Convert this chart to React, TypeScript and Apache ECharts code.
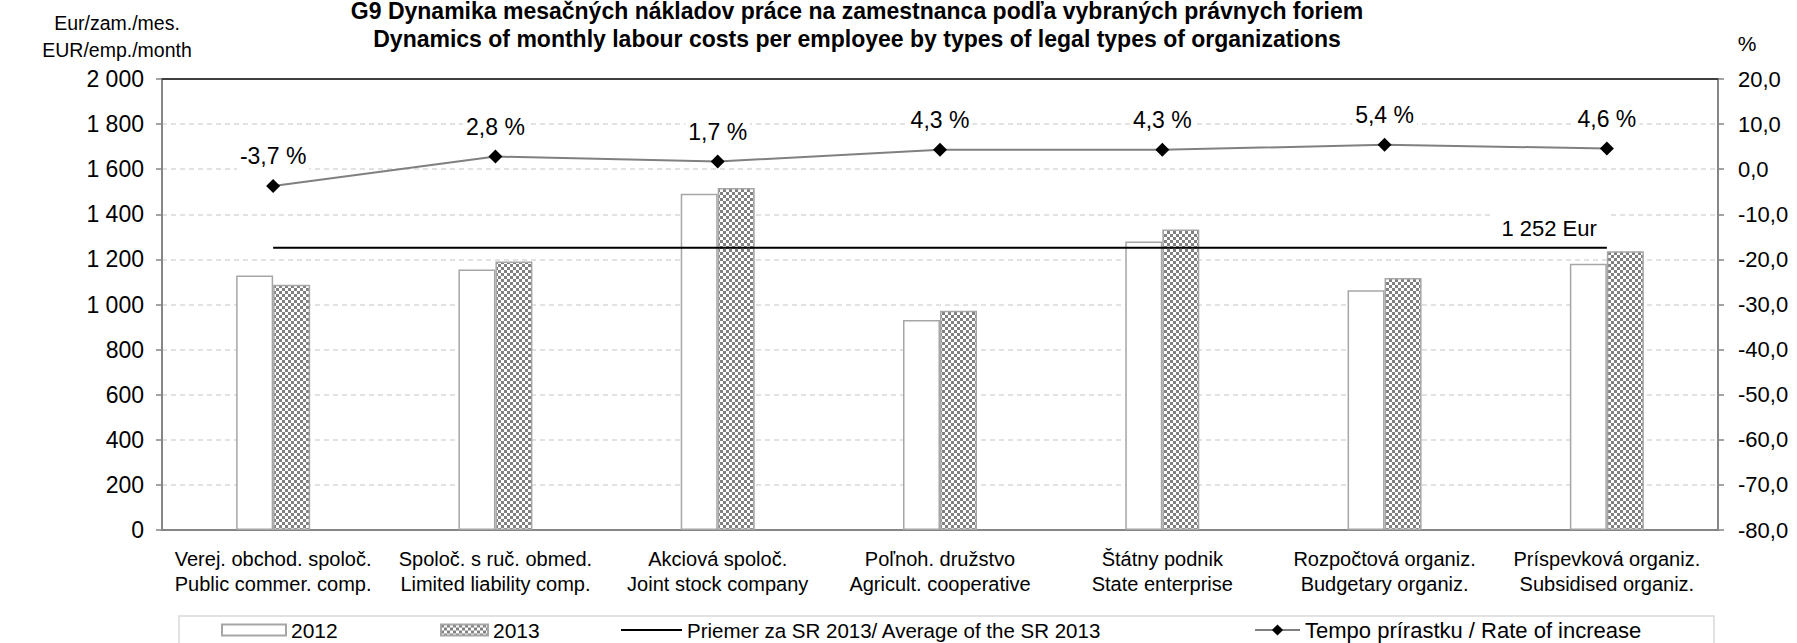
import React, { useEffect, useRef } from 'react';
import * as echarts from 'echarts';

const categories = [
  'Verej. obchod. spoloč.\nPublic commer. comp.',
  'Spoloč. s ruč. obmed.\nLimited liability comp.',
  'Akciová spoloč.\nJoint stock company',
  'Poľnoh. družstvo\nAgricult. cooperative',
  'Štátny podnik\nState enterprise',
  'Rozpočtová organiz.\nBudgetary organiz.',
  'Príspevková organiz.\nSubsidised organiz.',
];
const costs2012 = [1129, 1155, 1491, 931, 1279, 1063, 1181];
const costs2013 = [1088, 1191, 1517, 972, 1333, 1117, 1236];
const average2013 = 1252;
const rateOfIncrease = [-3.7, 2.8, 1.7, 4.3, 4.3, 5.4, 4.6];

const seriesNames = [
  '2012',
  '2013',
  'Priemer za SR 2013/ Average of the SR 2013',
  'Tempo prírastku / Rate of increase',
];
const titleLines = [
  'G9 Dynamika mesačných nákladov práce na zamestnanca podľa vybraných právnych foriem',
  'Dynamics of monthly labour costs per employee by types of legal types of organizations',
];
const leftAxisNameLines = ['Eur/zam./mes.', 'EUR/emp./month'];
const rightAxisName = '%';
const leftAxisRange = { min: 0, max: 2000, interval: 200 };
const rightAxisRange = { min: -80, max: 20, interval: 10 };

const FONT = '"Liberation Sans", Arial, sans-serif';
const AXIS_GRAY = '#868686';

const fmtThousands = (v: number) =>
  String(Math.round(v)).replace(/\B(?=(\d{3})+(?!\d))/g, ' ');
const fmtDecimal = (v: number) => v.toFixed(1).replace('.', ',');

function makePattern() {
  const c = document.createElement('canvas');
  c.width = 6;
  c.height = 6;
  const ctx = c.getContext('2d')!;
  ctx.fillStyle = '#ffffff';
  ctx.fillRect(0, 0, 6, 6);
  ctx.fillStyle = '#808080';
  ctx.fillRect(0, 0, 3, 3);
  ctx.fillRect(3, 3, 3, 3);
  return { image: c, repeat: 'repeat', imageWidth: 6, imageHeight: 6 } as any;
}

export default function App() {
  const ref = useRef<HTMLDivElement>(null);

  useEffect(() => {
    document.body.style.margin = '0';
    if (!ref.current) return;
    const chart = echarts.init(ref.current, undefined, { renderer: 'svg' });
    const pattern = makePattern();
    const last = categories.length - 1;

    const legendBase = {
      top: 618,
      padding: 0,
      selectedMode: false,
      itemHeight: 11,
      textStyle: { fontSize: 21, color: '#000', fontFamily: FONT, lineHeight: 24 },
    };

    chart.setOption({
      animation: false,
      textStyle: { fontFamily: FONT, color: '#000' },
      grid: { left: 162, right: 79, top: 79, bottom: 113, containLabel: false },
      legend: [
        { ...legendBase, data: [{ name: seriesNames[0], icon: 'rect' }], left: 221, itemWidth: 64 },
        { ...legendBase, data: [{ name: seriesNames[1], icon: 'rect' }], left: 440, itemWidth: 47 },
        {
          ...legendBase,
          data: [{ name: seriesNames[2], icon: 'rect' }],
          left: 621,
          itemWidth: 61,
          itemHeight: 2,
          itemStyle: { color: '#000' },
          textStyle: { ...legendBase.textStyle, fontSize: 20.5 },
        },
        {
          ...legendBase,
          data: [seriesNames[3]],
          left: 1254,
          itemWidth: 45,
          itemHeight: 14,
          textStyle: { ...legendBase.textStyle, fontSize: 22 },
        },
      ],
      xAxis: [
        {
          type: 'category',
          data: categories,
          axisLine: { onZero: false, lineStyle: { color: AXIS_GRAY, width: 2 } },
          axisTick: { show: false },
          axisLabel: {
            interval: 0,
            fontSize: 20,
            lineHeight: 25,
            margin: 16,
            color: '#000',
            fontFamily: FONT,
          },
        },
        {
          type: 'category',
          position: 'top',
          data: categories,
          axisLine: { show: true, onZero: false, lineStyle: { color: '#404040', width: 2 } },
          axisTick: { show: false },
          axisLabel: { show: false },
        },
      ],
      yAxis: [
        {
          type: 'value',
          ...leftAxisRange,
          axisLine: { show: true, lineStyle: { color: AXIS_GRAY, width: 2 } },
          axisTick: { show: true, length: 6, lineStyle: { color: AXIS_GRAY, width: 1.5 } },
          axisLabel: {
            formatter: (v: number) => fmtThousands(v),
            fontSize: 23,
            color: '#000',
            margin: 18,
            fontFamily: FONT,
          },
          splitLine: {
            show: true,
            lineStyle: { color: '#d9d9d9', type: [5, 4], width: 1.5 },
          },
        },
        {
          type: 'value',
          position: 'right',
          ...rightAxisRange,
          axisLine: { show: true, lineStyle: { color: AXIS_GRAY, width: 2 } },
          axisTick: { show: true, length: 6, lineStyle: { color: AXIS_GRAY, width: 1.5 } },
          axisLabel: {
            formatter: (v: number) => fmtDecimal(v),
            fontSize: 22,
            color: '#000',
            margin: 20,
            fontFamily: FONT,
          },
          splitLine: { show: false },
        },
      ],
      series: [
        {
          name: seriesNames[0],
          type: 'bar',
          data: costs2012,
          barWidth: 37,
          barGap: '0%',
          itemStyle: { color: '#ffffff', borderColor: '#a6a6a6', borderWidth: 1.5 },
        },
        {
          name: seriesNames[1],
          type: 'bar',
          data: costs2013,
          barWidth: 37,
          barGap: '0%',
          itemStyle: { color: pattern, borderColor: '#a6a6a6', borderWidth: 1.5 },
        },
        {
          name: seriesNames[2],
          type: 'line',
          symbol: 'circle',
          symbolSize: 0,
          showSymbol: true,
          lineStyle: { color: '#000', width: 2 },
          itemStyle: { color: '#000' },
          data: categories.map((_, i) =>
            i === last
              ? {
                  value: average2013,
                  label: {
                    show: true,
                    position: 'top',
                    distance: 4,
                    align: 'right',
                    formatter: () => fmtThousands(average2013) + ' Eur',
                    fontSize: 22,
                    lineHeight: 25,
                    color: '#000',
                    backgroundColor: '#fff',
                    padding: [3, 10, 3, 10],
                    fontFamily: FONT,
                  },
                }
              : average2013
          ),
          z: 3,
        },
        {
          name: seriesNames[3],
          type: 'line',
          yAxisIndex: 1,
          data: rateOfIncrease,
          symbol: 'diamond',
          symbolSize: 14,
          itemStyle: { color: '#000' },
          lineStyle: { color: '#808080', width: 2 },
          label: {
            show: true,
            position: 'top',
            distance: 9,
            formatter: (p: any) => fmtDecimal(p.value) + ' %',
            fontSize: 23,
            lineHeight: 25,
            color: '#000',
            backgroundColor: '#fff',
            padding: [1, 3, 1, 3],
            fontFamily: FONT,
          },
          z: 4,
        },
      ],
      graphic: [
        {
          type: 'text',
          x: 857,
          y: -3,
          style: {
            text: titleLines.join('\n'),
            fontSize: 23,
            fontWeight: 'bold',
            fontFamily: FONT,
            lineHeight: 28,
            align: 'center',
            verticalAlign: 'top',
            fill: '#000',
          },
        },
        {
          type: 'text',
          x: 117,
          y: 9,
          style: {
            text: leftAxisNameLines.join('\n'),
            fontSize: 19.5,
            fontFamily: FONT,
            lineHeight: 27,
            align: 'center',
            verticalAlign: 'top',
            fill: '#000',
          },
        },
        {
          type: 'text',
          x: 1747,
          y: 43,
          style: {
            text: rightAxisName,
            fontSize: 21,
            fontFamily: FONT,
            align: 'center',
            verticalAlign: 'middle',
            fill: '#000',
          },
        },
        {
          type: 'rect',
          shape: { x: 179, y: 616, width: 1535, height: 50 },
          style: { fill: 'none', stroke: '#d9d9d9', lineWidth: 1.5 },
          silent: true,
        },
      ],
    });

    return () => chart.dispose();
  }, []);

  return (
    <div
      ref={ref}
      style={{ position: 'absolute', left: 0, top: 0, width: 1797, height: 643 }}
    />
  );
}
